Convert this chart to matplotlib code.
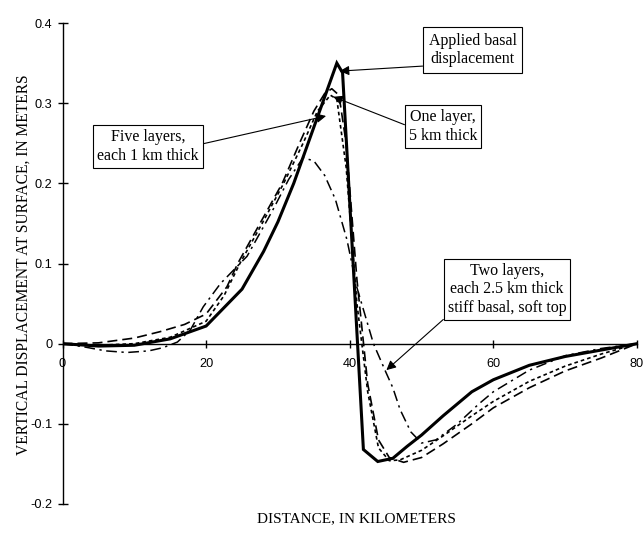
import matplotlib
matplotlib.use("Agg")
import matplotlib.pyplot as plt

# Applied basal displacement (solid)
applied_x = [0, 5, 10, 15, 20, 25, 28, 30, 32.2, 34, 36, 38.2, 39.0, 41.9, 43.9, 46.0, 48, 50, 53, 57, 60, 65, 70, 75, 80]
applied_y = [0, -0.003, -0.002, 0.006, 0.022, 0.068, 0.115, 0.152, 0.2, 0.245, 0.295, 0.350, 0.338, -0.132, -0.147, -0.143, -0.128, -0.114, -0.09, -0.06, -0.045, -0.027, -0.016, -0.008, 0]

# Long-dashed curve
dash_x = [0, 5, 10, 13.6, 17, 20, 22.9, 24.4, 27.5, 30.6, 33, 35, 36.5, 37.5, 38.5, 39.5, 41, 42.5, 44, 45.5, 47.5, 50, 53, 57, 60, 65, 70, 75, 80]
dash_y = [0, 0.001, 0.007, 0.015, 0.024, 0.037, 0.071, 0.1, 0.15, 0.2, 0.25, 0.29, 0.312, 0.318, 0.31, 0.25, 0.08, -0.05, -0.12, -0.142, -0.148, -0.142, -0.125, -0.1, -0.08, -0.055, -0.034, -0.018, 0]

# Short-dashed curve
dot_x = [0, 5, 10, 15, 20, 22.5, 24.7, 27.8, 30.8, 33.5, 35.5, 37.3, 38.2, 39.5, 41, 42.5, 44, 45.5, 47, 50, 53, 57, 60, 65, 70, 75, 80]
dot_y = [0, -0.002, 0.0, 0.008, 0.028, 0.06, 0.1, 0.15, 0.2, 0.25, 0.29, 0.31, 0.305, 0.22, 0.05, -0.06, -0.13, -0.146, -0.145, -0.133, -0.115, -0.09, -0.072, -0.047, -0.028, -0.013, 0]

# Dash-dot curve (two layers)
two_x = [0, 3, 6, 9, 12, 14, 16, 17.8, 19.6, 22, 25.7, 29.3, 31.5, 33.5, 35, 36.5, 38, 39.6, 41, 43.3, 45, 46, 47, 48.5, 50, 52, 55, 58, 60, 65, 70, 75, 80]
two_y = [0, -0.004, -0.009, -0.011, -0.009, -0.005, 0.002, 0.017, 0.046, 0.075, 0.109, 0.167, 0.205, 0.232, 0.228, 0.21, 0.18, 0.13, 0.07, 0.0, -0.035, -0.055, -0.082, -0.11, -0.124, -0.12, -0.1, -0.075, -0.06, -0.033, -0.015, -0.006, 0]

x_ticks = [0, 20, 40, 60, 80]
y_ticks = [-0.2, -0.1, 0, 0.1, 0.2, 0.3, 0.4]
y_tick_labels = ["-0.2", "-0.1", "0", "0.1", "0.2", "0.3", "0.4"]

W, H = 644, 538
fig = plt.figure(figsize=(W / 100, H / 100), dpi=100)
ax = fig.add_axes([62.5 / W, 1 - 504 / H, (637 - 62.5) / W, (504 - 23) / H])

ax.plot(two_x, two_y, color="black", lw=1.1, dashes=(7, 3, 1.5, 3))
ax.plot(dash_x, dash_y, color="black", lw=1.2, dashes=(6, 3))
ax.plot(dot_x, dot_y, color="black", lw=1.2, dashes=(2.2, 1.8))
ax.plot(applied_x, applied_y, color="black", lw=2.2, solid_joinstyle="miter")

ax.set_xlim(0, 80)
ax.set_ylim(-0.2, 0.4)
ax.spines["top"].set_visible(False)
ax.spines["right"].set_visible(False)
ax.spines["bottom"].set_position(("data", 0))
ax.spines["left"].set_linewidth(1.0)
ax.spines["bottom"].set_linewidth(1.0)

ax.set_xticks(x_ticks)
ax.set_xticklabels([str(v) for v in x_ticks], family="Liberation Sans", fontsize=9.2)
ax.set_yticks(y_ticks)
ax.set_yticklabels(y_tick_labels, family="Liberation Sans", fontsize=9.2)
ax.tick_params(axis="x", direction="inout", length=6, width=1.0, pad=7)
ax.tick_params(axis="y", direction="inout", length=6.5, width=1.0, pad=4)

fig.text(23.5 / W, 1 - 265 / H, "VERTICAL DISPLACEMENT AT SURFACE, IN METERS",
         rotation=90, ha="center", va="center", family="Liberation Serif", fontsize=11.2)
fig.text(356 / W, 1 - 519 / H, "DISTANCE, IN KILOMETERS",
         ha="center", va="center", family="Liberation Serif", fontsize=11)

bbox = dict(boxstyle="square,pad=0.25", fc="white", ec="black", lw=0.8)
arrow = dict(arrowstyle="-|>", mutation_scale=14, lw=0.8, color="black", shrinkA=0, shrinkB=0)
tfont = dict(family="Liberation Serif", fontsize=11.5, ha="center", va="center", linespacing=1.2)

ax.annotate("Applied basal\ndisplacement", xy=(38.6, 0.340), xytext=(57.1, 0.366),
            bbox=dict(bbox, boxstyle="square,pad=0.35"), arrowprops=dict(arrow, relpos=(0, 0.05)), **tfont)
ax.annotate("One layer,\n5 km thick", xy=(37.7, 0.308), xytext=(53.0, 0.271),
            bbox=bbox, arrowprops=dict(arrow, relpos=(0, 0.5)), **tfont)
ax.annotate("Five layers,\neach 1 km thick", xy=(36.7, 0.284), xytext=(11.9, 0.246),
            bbox=bbox, arrowprops=dict(arrow, relpos=(1, 0.55)), **tfont)
ax.annotate("Two layers,\neach 2.5 km thick\nstiff basal, soft top", xy=(45.1, -0.033),
            xytext=(61.9, 0.068), bbox=bbox, arrowprops=dict(arrow, relpos=(0, 0)), **tfont)

fig.savefig("out.png", dpi=100)
